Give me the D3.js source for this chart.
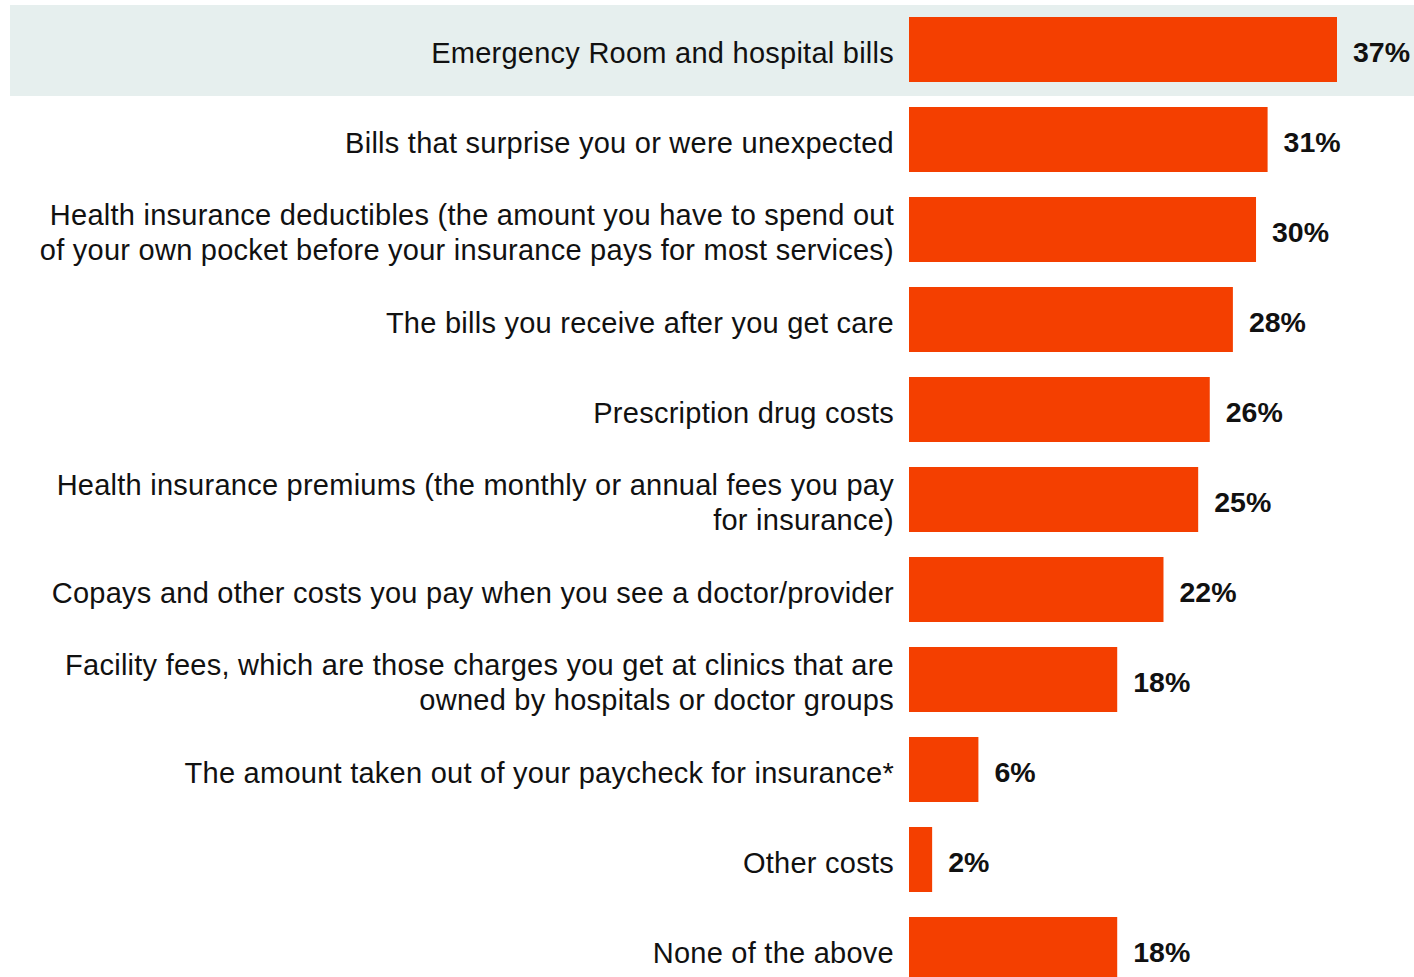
<!DOCTYPE html>
<html>
<head>
<meta charset="utf-8">
<script src="https://cdn.jsdelivr.net/npm/d3@7"></script>
<style>
  body { margin: 0; background: #fff; }
  svg text { font-family: "Liberation Sans", Arial, sans-serif; }
</style>
</head>
<body>
<div class="chart"></div>
<script>
// categories (line breaks as in the original)
var categories = [
  ["Emergency Room and hospital bills"],
  ["Bills that surprise you or were unexpected"],
  ["Health insurance deductibles (the amount you have to spend out", "of your own pocket before your insurance pays for most services)"],
  ["The bills you receive after you get care"],
  ["Prescription drug costs"],
  ["Health insurance premiums (the monthly or annual fees you pay", "for insurance)"],
  ["Copays and other costs you pay when you see a doctor/provider"],
  ["Facility fees, which are those charges you get at clinics that are", "owned by hospitals or doctor groups"],
  ["The amount taken out of your paycheck for insurance*"],
  ["Other costs"],
  ["None of the above"]
];
var values = [37, 31, 30, 28, 26, 25, 22, 18, 6, 2, 18];
var highlighted = 0;

var width = 1414, height = 977;
var barColor = "#f43f00";

var svg = d3.select(".chart").append("svg")
    .attr("width", width)
    .attr("height", height);

var idx = d3.range(values.length);

var y = d3.scaleBand()
    .domain(idx)
    .range([4.5, 4.5 + 90 * values.length])
    .paddingInner(25 / 90)
    .paddingOuter(12.5 / 90);

var x = d3.scaleLinear()
    .domain([0, 37])
    .range([909, 1337]);

// highlight band for the top row
svg.append("rect")
    .attr("x", 10)
    .attr("y", y(highlighted) - 12)
    .attr("width", width - 10)
    .attr("height", y.bandwidth() + 26)
    .attr("fill", "#e6efee");

svg.selectAll(".bar")
    .data(idx)
    .enter().append("rect")
    .attr("class", "bar")
    .attr("x", x(0))
    .attr("y", function(i) { return y(i); })
    .attr("width", function(i) { return x(values[i]) - x(0); })
    .attr("height", y.bandwidth())
    .attr("fill", barColor);

// category labels
var labels = svg.selectAll(".label")
    .data(idx)
    .enter().append("text")
    .attr("class", "label")
    .attr("text-anchor", "end")
    .style("font-size", "29px")
    .style("letter-spacing", "0.25px")
    .attr("fill", "#111");

labels.each(function(i) {
  var lines = categories[i];
  var mid = y(i) + y.bandwidth() / 2 + 13;
  var start = mid - (lines.length - 1) * 17.5;
  var t = d3.select(this);
  lines.forEach(function(l, k) {
    t.append("tspan")
      .attr("x", 894)
      .attr("y", start + k * 35)
      .text(l);
  });
});

// value labels
svg.selectAll(".value")
    .data(idx)
    .enter().append("text")
    .attr("class", "value")
    .attr("x", function(i) { return x(values[i]) + 16; })
    .attr("y", function(i) { return y(i) + y.bandwidth() / 2 + 12; })
    .style("font-size", "28.5px")
    .style("font-weight", "bold")
    .attr("fill", "#111")
    .text(function(i) { return values[i] + "%"; });
</script>
</body>
</html>
